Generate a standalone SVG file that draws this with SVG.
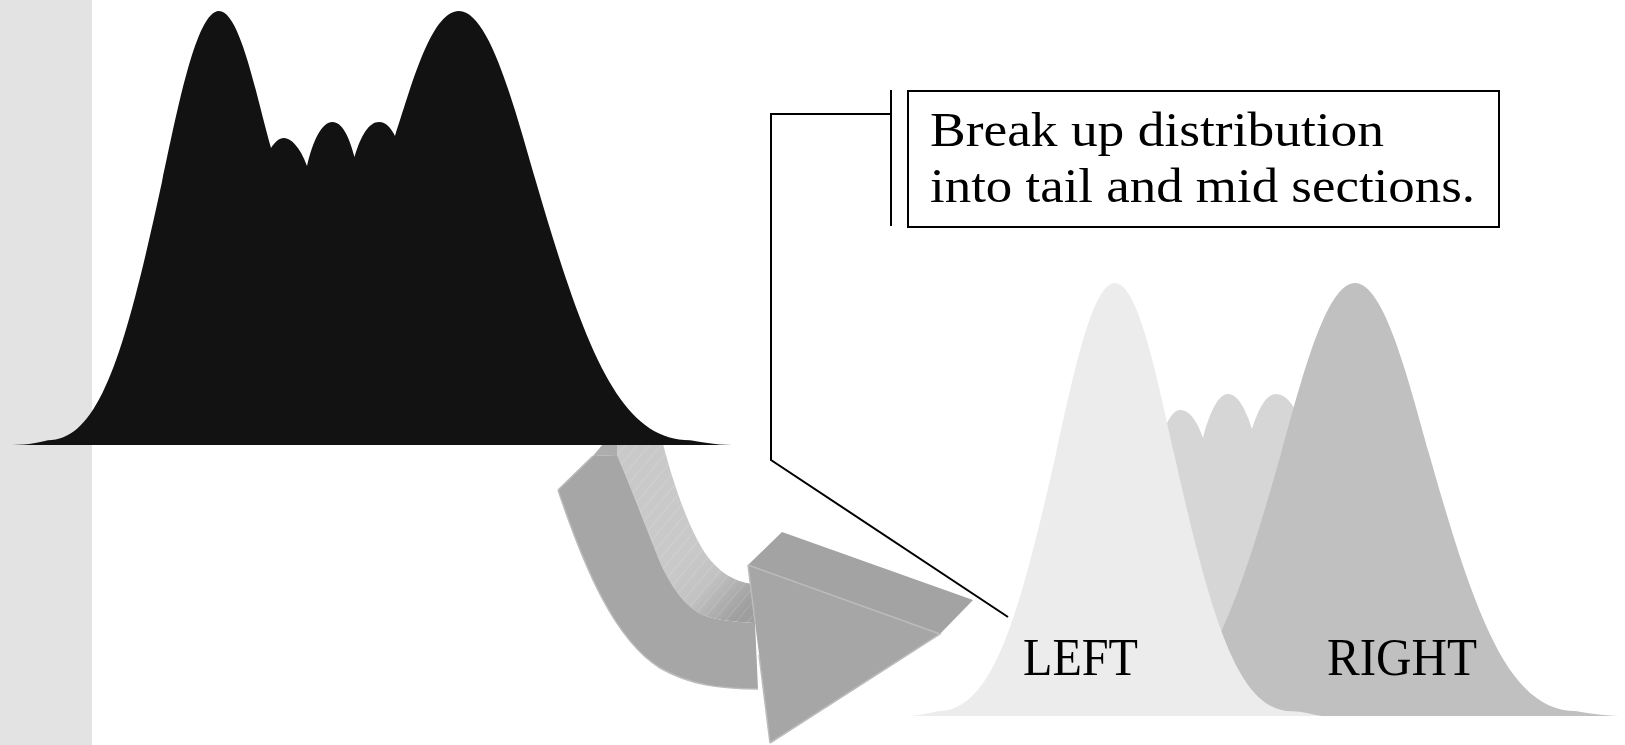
<svg xmlns="http://www.w3.org/2000/svg" width="1625" height="745" viewBox="0 0 1625 745">
  <style>
    .lbl { font-family: "Liberation Serif", "Times New Roman", serif; fill: #000; }
    .line { fill: none; stroke: #000; stroke-width: 2; }
    .face { fill: #a6a6a6; }
    .edge { fill: none; stroke: #bcbcbc; stroke-width: 1.5; }
  </style>
  <defs>
    <linearGradient id="stripGrad" gradientUnits="userSpaceOnUse" x1="685" y1="555" x2="745" y2="610">
      <stop offset="0" stop-color="#c9c9c9"/>
      <stop offset="0.45" stop-color="#c2c2c2"/>
      <stop offset="1" stop-color="#9e9e9e"/>
    </linearGradient>
    <pattern id="hatch" patternUnits="userSpaceOnUse" width="9" height="9" patternTransform="rotate(40)">
      <line x1="0" y1="0" x2="0" y2="9" stroke="#ffffff" stroke-opacity="0.35" stroke-width="0.8"/>
    </pattern>
  </defs>

  <rect id="band" x="0" y="0" width="92" height="745" fill="#e3e3e3"/>

  <g id="arrow">
    <!-- light strip (inner side of the bend) -->
    <path d="M617,444 L663,444 C675,490 690,530 705,553 C718,572 735,582 752,584 L755,623 C735,622 715,620 703,615 C685,607 670,585 660,562 C645,525 630,485 617,455 Z" fill="url(#stripGrad)"/>
    <path d="M617,444 L663,444 C675,490 690,530 705,553 C718,572 735,582 752,584 L755,623 C735,622 715,620 703,615 C685,607 670,585 660,562 C645,525 630,485 617,455 Z" fill="url(#hatch)"/>
    <!-- small top bevel -->
    <path d="M593,456 L617,455 L617,444 L603,444 Z" fill="#adadad"/>
    <!-- shaft front face -->
    <path class="face" d="M558,490 C585,570 615,640 660,668 C690,685 720,689 758,689 L755,623 C735,622 715,620 703,615 C685,607 670,585 660,562 C645,525 630,485 617,455 L593,456 Z"/>
    <path class="edge" d="M558,490 L593,456 M558,490 C585,570 615,640 660,668 C690,685 720,689 758,689" stroke-width="1"/>
    <!-- head top face -->
    <path d="M748,565 L782,532 L973,600 L940,634 Z" fill="#a3a3a3"/>
    <!-- head front face -->
    <path class="face" d="M748,565 L940,634 L770,743 Z"/>
    <path class="edge" d="M748,565 L940,634 L770,743"/>
    <path class="edge" d="M748,565 L755,622 M759,655 L770,743" stroke-width="1"/>
  </g>

  <g id="source-distribution">
    <path fill="#121212" d="M12,445 C30,444.6 40,442.2 48,440.2 C99.3,440.2 125,352.9 162,181.8 C177.4,110.7 196.2,11 219,11 C240,11 256,95 271,148 C275,142 279,138 284,138 C291,138 300,147 307,166 C313,140 322,122 332.5,122 C342,122 349,136 354.5,157 C361,135 369,122 379,122 C386,122 391,128 395,136 C410,92 430,11 459,11 C489.8,11 515.2,110.7 536,181.8 C586,352.9 620.7,440.2 690,440.2 C698,441.7 715,444.7 732,445 Z"/>
  </g>

  <g id="connectors">
    <polyline class="line" points="891,114 771,114 771,460 1008,617"/>
  </g>

  <g id="callout">
    <line class="line" x1="891" y1="90" x2="891" y2="226"/>
    <rect x="908" y="91" width="591" height="136" fill="#ffffff" stroke="#000" stroke-width="2"/>
    <text class="lbl" x="930" y="146" font-size="48" textLength="454" lengthAdjust="spacingAndGlyphs">Break up distribution</text>
    <text class="lbl" x="930" y="202" font-size="48" textLength="545" lengthAdjust="spacingAndGlyphs">into tail and mid sections.</text>
  </g>

  <g id="split-distributions">
    <g id="mid-section">
      <path fill="#d6d6d6" d="M1160,716 L1160,440 C1168,418 1174,410 1180,410 C1189,410 1197,420 1203,438 C1209,414 1218,394 1228,394 C1238,394 1246,410 1252,429 C1258,410 1266,394 1276,394 C1286,394 1294,405 1300,420 L1300,716 Z"/>
    </g>
    <g id="right-tail">
      <path fill="#c0c0c0" d="M1133,716 L1133,711.2 C1199.6,711.2 1232.9,624.1 1281,453.4 C1301,382.5 1325.4,283 1355,283 C1384.6,283 1409,382.5 1429,453.4 C1477.1,624.1 1510.4,711.2 1577,711.2 C1592,714.1 1610,716 1625,716 Z"/>
      <text class="lbl" x="1327" y="675" font-size="52" textLength="150" lengthAdjust="spacingAndGlyphs">RIGHT</text>
    </g>
    <g id="left-tail">
      <path fill="#ececec" d="M909,716 C920,715.5 930,712.5 938,711.2 C991.1,711.2 1017.6,624.1 1056,453.4 C1071.9,382.5 1091.4,283 1115,283 C1138.6,283 1158.1,382.5 1174,453.4 C1212.4,624.1 1238.9,711.2 1292,711.2 C1302,711.2 1312,714.5 1322,716 Z"/>
      <text class="lbl" x="1023" y="675" font-size="52" textLength="115" lengthAdjust="spacingAndGlyphs">LEFT</text>
    </g>
  </g>
</svg>
